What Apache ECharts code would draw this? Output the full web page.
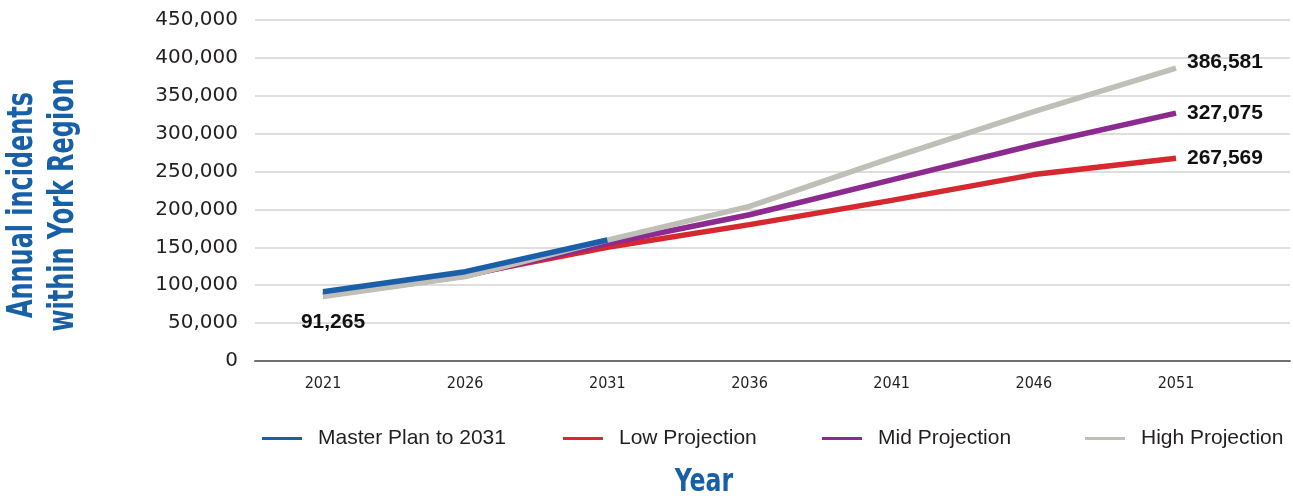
<!DOCTYPE html>
<html>
<head>
<meta charset="utf-8">
<script src="https://cdn.jsdelivr.net/npm/echarts@6/dist/echarts.min.js"></script>
<style>html,body{margin:0;padding:0;background:#fff}#c{width:1293px;height:500px}</style>
</head>
<body>
<div id="c"></div>
<script>
const years = [2021, 2026, 2031, 2036, 2041, 2046, 2051];
const masterPlan = [91265, 117900, 159700, null, null, null, null];
const lowProj = [88000, 113500, 150000, 180000, 212000, 246000, 267569];
const midProj = [86000, 112000, 155000, 193000, 239000, 285000, 327075];
const highProj = [85000, 111500, 159500, 204000, 268000, 329000, 386581];
const yTicks = [0, 50000, 100000, 150000, 200000, 250000, 300000, 350000, 400000, 450000];
const seriesNames = ['Master Plan to 2031', 'Low Projection', 'Mid Projection', 'High Projection'];

const colors = {
  'Master Plan to 2031': '#1a5fa8',
  'Low Projection': '#d5282f',
  'Mid Projection': '#8c2a8f',
  'High Projection': '#bfbfb8'
};
const fmt = v => Number(v).toLocaleString('en-US');
const labelStyleBase = {
  show: true,
  fontFamily: "'Liberation Sans', Arial, sans-serif",
  fontWeight: 'bold',
  fontSize: 21,
  color: '#111',
  formatter: p => fmt(p.value[1])
};
function build(values, labelIdx, labelOpts) {
  return values.map((v, i) => {
    if (v === null) return [years[i], null];
    if (i === labelIdx) return { value: [years[i], v], label: Object.assign({}, labelStyleBase, labelOpts) };
    return [years[i], v];
  });
}
const pxPerYear = (1176 - 323) / (years[years.length - 1] - years[0]);
const gridLeft = 255, gridRight = 3;
const xMin = years[0] - (323 - gridLeft) / pxPerYear;
const xMax = years[years.length - 1] + (1293 - gridRight - 1176) / pxPerYear;

function lineSeries(name, values, labelIdx, labelOpts, z) {
  return {
    name, type: 'line', data: build(values, labelIdx, labelOpts),
    showSymbol: true, symbol: 'circle', symbolSize: 0.01, z,
    lineStyle: { width: 5.5, color: colors[name] },
    itemStyle: { color: colors[name] },
    label: { show: false },
    emphasis: { disabled: true },
    connectNulls: false
  };
}

const chart = echarts.init(document.getElementById('c'), null, { renderer: 'canvas' });
const legendPos = [262, 563, 822, 1085];
chart.setOption({
  animation: false,
  grid: { left: gridLeft, right: gridRight, top: 20, bottom: 139, containLabel: false },
  xAxis: {
    type: 'value', min: xMin, max: xMax,
    splitLine: { show: false },
    axisTick: { show: false },
    axisLine: { show: true, onZero: false, lineStyle: { color: '#6f6f6f', width: 2 } },
    axisLabel: {
      customValues: years, margin: 15,
      fontFamily: "'DejaVu Sans Condensed', sans-serif",
      fontSize: 16, color: '#231f20', formatter: v => String(v)
    }
  },
  yAxis: {
    type: 'value', min: yTicks[0], max: yTicks[yTicks.length - 1], interval: yTicks[1] - yTicks[0],
    axisLine: { show: false }, axisTick: { show: false },
    splitLine: { lineStyle: { color: '#d3d3d0', width: 1.5 } },
    axisLabel: {
      margin: 17, fontFamily: "'DejaVu Sans', sans-serif", fontSize: 20, color: '#231f20',
      formatter: v => fmt(v)
    }
  },
  legend: seriesNames.map((n, i) => ({
    data: [n], left: legendPos[i] - 5, top: 423, icon: 'rect', itemWidth: 40, itemHeight: 3,
    selectedMode: false,
    textStyle: { fontFamily: "'Liberation Sans', Arial, sans-serif", fontSize: 21, color: '#231f20', padding: [0, 0, 0, 11] }
  })),
  graphic: [
    {
      type: 'text', x: 43, y: 205, rotation: Math.PI / 2, scaleX: 0.76,
      style: {
        text: 'Annual incidents\nwithin York Region',
        fill: '#1760a8', align: 'center', verticalAlign: 'middle',
        font: "bold 35px 'DejaVu Sans Condensed', sans-serif",
        lineHeight: 41
      }
    },
    {
      type: 'text', x: 704, y: 483, scaleX: 0.82,
      style: {
        text: 'Year', fill: '#1760a8', align: 'center', verticalAlign: 'middle',
        font: "bold 32px 'DejaVu Sans Condensed', sans-serif"
      }
    }
  ],
  series: [
    lineSeries('Low Projection', lowProj, 6, { position: 'right', distance: 11 }, 2),
    lineSeries('Mid Projection', midProj, 6, { position: 'right', distance: 11 }, 3),
    lineSeries('High Projection', highProj, 6, { position: 'right', distance: 11, offset: [0, -6] }, 4),
    lineSeries('Master Plan to 2031', masterPlan, 0, { position: 'bottom', distance: 20, offset: [10, 0] }, 5)
  ]
});
</script>
</body>
</html>
